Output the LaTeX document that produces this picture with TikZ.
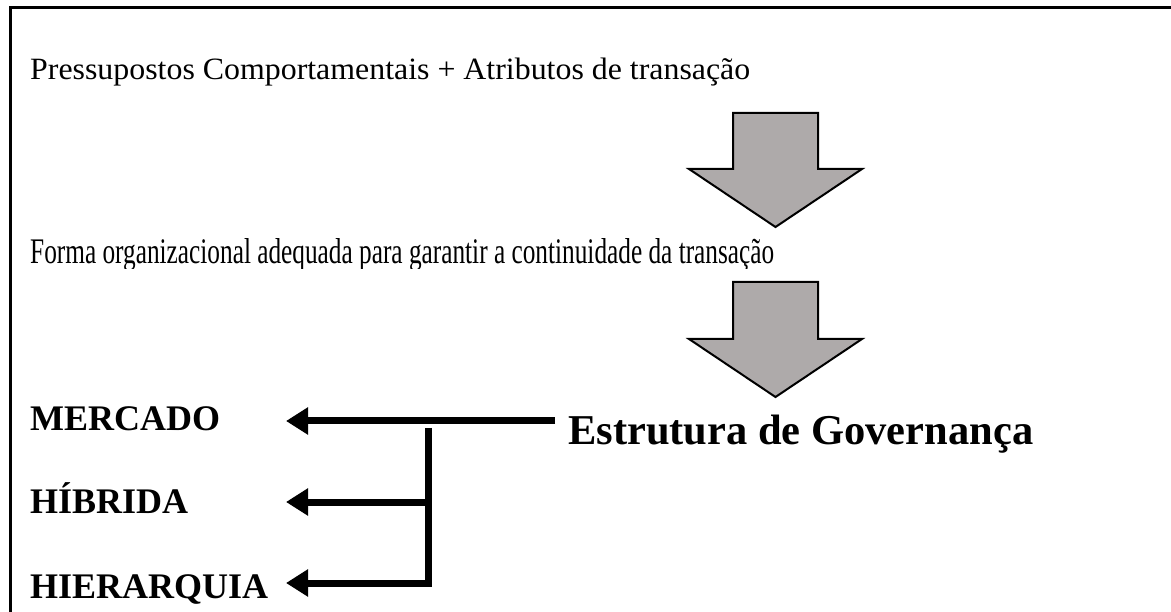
\documentclass[tikz,border=0pt]{standalone}
\usepackage{fontspec}
\setmainfont{Liberation Serif}
\usetikzlibrary{arrows.meta}
\definecolor{arrowgray}{RGB}{174,170,170}
\tikzset{
  borderline/.style={line width=3pt},
  blockarrow/.style={draw=black, fill=arrowgray, line width=2pt, line join=miter},
  bodytext/.style={anchor=base west, inner sep=0pt, font=\fontsize{31}{36}\selectfont},
  choicetext/.style={anchor=base west, inner sep=0pt, font=\bfseries\fontsize{36}{40}\selectfont},
  govtext/.style={anchor=base west, inner sep=0pt, font=\bfseries\fontsize{42.5}{48}\selectfont},
  conn/.style={line width=7pt, line join=miter, -{Triangle[length=22pt,width=26pt]}},
}
\begin{document}
\begin{tikzpicture}[x=1pt,y=-1pt]
\useasboundingbox (0,0) rectangle (1171,612);
% frame
\draw[borderline] (1180,8) -- (10,8) -- (10,620);
% texts
\node[bodytext] (t1) at (30,80) {\resizebox{720pt}{\height}{Pressupostos Comportamentais + Atributos de transação}};
\begin{scope}
\clip (0,0) rectangle (1171,269);
\node[bodytext, font=\fontsize{36}{40}\selectfont] (t2) at (30,264) {\resizebox{744pt}{\height}{Forma organizacional adequada para garantir a continuidade da transação}};
\end{scope}
% block arrows
\draw[blockarrow] (733,113) -- (818,113) -- (818,169) -- (862,169) -- (775.5,227) -- (689,169) -- (733,169) -- cycle;
\draw[blockarrow] (733,282) -- (818,282) -- (818,339) -- (862,339) -- (775.5,397) -- (689,339) -- (733,339) -- cycle;
% governance
\node[govtext] (gov) at (568,445) {Estrutura de Governança};
\node[choicetext] (merc) at (30,431) {MERCADO};
\node[choicetext] (hib) at (30,513) {HÍBRIDA};
\node[choicetext] (hier) at (30,598) {HIERARQUIA};
% connectors
\coordinate (src) at (555,421);
\coordinate (tm) at (286,421);
\coordinate (jtop) at (428,428);
\coordinate (jmid) at (428,502);
\coordinate (jbot) at (428,583);
\coordinate (th) at (286,502);
\coordinate (ti) at (286,583);
\draw[conn] (src) -- (tm);
\draw[conn] (jmid) -- (th);
\draw[conn] (jtop) -- (jbot) -- (ti);
\end{tikzpicture}
\end{document}
